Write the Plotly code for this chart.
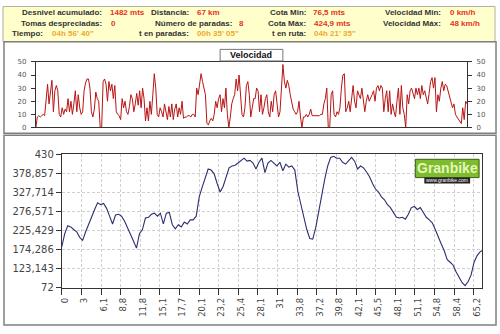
import plotly.graph_objects as go

# ---------------- data ----------------
elevation = [181, 217, 238, 235, 228, 222, 207, 199, 222, 243, 264, 282, 300, 295, 298, 285, 264, 243,
             267, 269, 264, 251, 233, 217, 197, 178, 217, 228, 259, 261, 269, 272, 264, 272, 243, 272,
             274, 241, 230, 241, 235, 248, 243, 254, 254, 264, 316, 342, 368, 391, 388, 378, 352, 329,
             344, 370, 394, 399, 401, 407, 414, 420, 412, 414, 407, 391, 409, 420, 381, 407, 414, 407,
             399, 409, 386, 404, 396, 399, 388, 331, 298, 264, 228, 204, 202, 233, 280, 321, 363, 399,
             422, 425, 420, 420, 409, 404, 414, 422, 412, 391, 399, 394, 383, 370, 352, 337, 329, 316,
             308, 295, 287, 274, 261, 259, 261, 256, 269, 287, 290, 282, 287, 274, 261, 254, 246, 228,
             207, 189, 171, 147, 140, 132, 114, 101, 85, 77, 88, 106, 140, 158, 168, 173]

speed = [0, 8, 9, 8, 9, 10, 9,
         25, 33, 18, 30, 36, 12, 28, 32, 28, 10,
         8, 15, 10, 14, 12, 22, 12, 20, 10, 18,
         28, 12, 25, 15, 10, 12, 28, 34, 37, 37,
         30, 12, 8, 14, 27, 22, 20, 0, 0, 35,
         37, 33, 20, 35, 28, 33, 22, 32, 12, 10,
         9, 6, 22, 15, 20, 12, 10, 16, 25, 22,
         12, 18, 26, 17, 28, 15, 30, 22, 5, 15,
         5, 20, 10, 25, 41, 30, 10, 8, 15, 12,
         8, 18, 10, 6, 16, 8, 18, 6, 14, 18,
         8, 15, 10, 20, 7, 8, 8, 9, 9, 8,
         10, 10, 8, 30, 25, 35, 41, 35, 30, 25,
         3, 2, 5, 7, 5, 10, 20, 15, 22, 25,
         12, 22, 15, 30, 10, 0, 8, 18, 22, 25,
         37, 28, 40, 28, 10, 8, 15, 32, 35, 25,
         8, 15, 22,
         22, 30, 28, 12, 25, 10, 15, 22, 25, 12, 8, 20,
         12, 25, 28, 15, 8, 12, 30, 48, 35, 30, 36, 32,
         25, 20, 14, 12, 10, 12, 20, 8, 0, 8, 8,
         10, 8, 10, 14, 9, 9, 9, 9, 9, 9, 10,
         10, 18, 22, 30, 0, 0, 25, 28, 10, 8,
         12, 10, 15, 30, 40, 41, 12, 15, 20, 12,
         25, 32, 20, 15, 28, 25, 22, 30, 18, 12, 20,
         25, 20, 22, 25, 28, 20, 30, 32, 28, 32,
         30, 12, 22, 28, 12, 28, 10, 18, 12, 8, 20,
         30, 10, 32, 15, 10, 0, 25, 18, 28, 30, 25,
         22, 30, 25, 30, 22, 32, 25, 28, 22, 18, 26,
         35, 38, 30, 38, 12, 25, 20, 30, 35, 28, 33,
         32, 28, 22, 20, 15, 18, 10, 8, 6, 5,
         3, 15, 6, 20, 18]

dist_labels = ["0", "3", "6,1", "8,8", "11,8", "15,1", "17,7", "20,1", "23,2", "25,4", "28,1",
               "31", "33,8", "37,2", "39,8", "42,1", "45,5", "48,1", "51,1", "54,8", "58,4", "65,2"]
elev_ticks = [72, 123.143, 174.286, 225.429, 276.571, 327.714, 378.857, 430]
elev_tick_text = ["72", "123,143", "174,286", "225,429", "276,571", "327,714", "378,857", "430"]
speed_ticks = [0, 10, 20, 30, 40, 50]

header = [  # (label, value, value colour kind, row, label right edge px, value left px)
    ("Desnivel acumulado:", "1482 mts", "r", 0, 102, 106),
    ("Distancia:", "67 km", "r", 0, 190, 194),
    ("Cota Min:", "76,5 mts", "r", 0, 307, 310),
    ("Velocidad Min:", "0 km/h", "r", 0, 443, 448),
    ("Tomas despreciadas:", "0", "r", 1, 102, 107),
    ("Número de paradas:", "8", "r", 1, 233, 236),
    ("Cota Máx:", "424,9 mts", "r", 1, 307, 311),
    ("Velocidad Máx:", "48 km/h", "r", 1, 443, 448),
    ("Tiempo:", "04h 56' 40''", "o", 2, 43, 48),
    ("t en paradas:", "00h 35' 05''", "o", 2, 190, 194),
    ("t en ruta:", "04h 21' 35''", "o", 2, 307, 311),
]

W, H = 500, 334
def px(x): return x / W
def py(y): return 1 - y / H

FONT = "Liberation Sans, Arial, sans-serif"
fig = go.Figure()

# elevation
ex = list(range(len(elevation)))
fig.add_trace(go.Scatter(x=ex, y=elevation, mode="lines", line=dict(color="#2a2f6e", width=1.1),
                         xaxis="x2", yaxis="y2", hoverinfo="skip", showlegend=False))
# speed
sx = list(range(len(speed)))
fig.add_trace(go.Scatter(x=sx, y=speed, mode="lines", line=dict(color="#b81414", width=1),
                         xaxis="x", yaxis="y", hoverinfo="skip", showlegend=False))
fig.add_trace(go.Scatter(x=sx, y=speed, mode="lines", line=dict(color="rgba(0,0,0,0)", width=0),
                         xaxis="x", yaxis="y3", hoverinfo="skip", showlegend=False))

# geometry
ex_range = (482 - 60) / 3
tick_step = 19.7 / 3
tickvals_x = [k * tick_step for k in range(len(dist_labels))]

axis_line = "#333333"
tickfont_s = dict(family="DejaVu Sans, Verdana, sans-serif", size=7, color="#555555")
fig.update_layout(
    width=W, height=H, margin=dict(l=0, r=0, t=0, b=0, pad=0),
    paper_bgcolor="white", plot_bgcolor="white", showlegend=False,
    font=dict(family=FONT),
    xaxis=dict(domain=[px(34), px(467)], range=[0, len(speed) - 1], showticklabels=False,
               ticks="", showgrid=False, zeroline=False, showline=True, mirror=True,
               linecolor=axis_line, linewidth=1, anchor="y"),
    yaxis=dict(domain=[py(126), py(58)], range=[0, 50], tickvals=speed_ticks, ticks="outside",
               ticklen=4, tickcolor=axis_line, showgrid=False, zeroline=False, showline=True,
               linecolor=axis_line, tickfont=tickfont_s, ticklabelstandoff=3, anchor="x"),
    yaxis3=dict(domain=[py(126), py(58)], range=[0, 50], tickvals=speed_ticks, ticks="outside",
                ticklen=4, tickcolor=axis_line, showgrid=False, zeroline=False, showline=True,
                linecolor=axis_line, tickfont=tickfont_s, side="right", overlaying="y",
                anchor="x", ticklabelstandoff=3),
    xaxis2=dict(domain=[px(60), px(482)], range=[0, ex_range], tickvals=tickvals_x,
                ticktext=dist_labels, tickangle=-90, ticks="outside", ticklen=6,
                tickcolor=axis_line, ticklabelshift=3,
                tickfont=dict(family="DejaVu Sans, Verdana, sans-serif", size=8.5, color="#444444"),
                showgrid=True, gridcolor="#d0d0d0", griddash="3px,2px", gridwidth=1,
                zeroline=False, showline=True, mirror=True, linecolor=axis_line, anchor="y2"),
    yaxis2=dict(domain=[py(292), py(154)], range=[72, 430], tickvals=elev_ticks,
                ticktext=elev_tick_text, ticks="outside", ticklen=5, tickcolor=axis_line,
                tickfont=dict(family="DejaVu Sans, Verdana, sans-serif", size=10, color="#444444"),
                showgrid=True, gridcolor="#d0d0d0", griddash="3px,2px", gridwidth=1,
                zeroline=False, showline=True, mirror=True, linecolor=axis_line, anchor="x2"),
)

shapes = [
    # header band
    dict(type="rect", xref="paper", yref="paper", x0=px(1), x1=px(495), y0=py(37), y1=py(0.5),
         fillcolor="#ffffcc", line=dict(color="#b0b0a0", width=1), layer="below"),
    # speed panel
    dict(type="rect", xref="paper", yref="paper", x0=px(2), x1=px(496), y0=py(132), y1=py(37),
         fillcolor="rgba(0,0,0,0)", line=dict(color="#808080", width=1.5), layer="below"),
    # elevation panel
    dict(type="rect", xref="paper", yref="paper", x0=px(2), x1=px(496), y0=py(331), y1=py(134),
         fillcolor="rgba(0,0,0,0)", line=dict(color="#808080", width=1.5), layer="below"),
    # speed title box
    dict(type="rect", xref="paper", yref="paper", x0=px(219), x1=px(282), y0=py(57), y1=py(45),
         fillcolor="white", line=dict(color="#777777", width=1)),
    # logo
    dict(type="rect", xref="paper", yref="paper", x0=px(415), x1=px(479), y0=py(178), y1=py(159),
         fillcolor="#7dbb2f", line=dict(color="#3d5f12", width=1)),
    dict(type="rect", xref="paper", yref="paper", x0=px(424), x1=px(470), y0=py(184), y1=py(178),
         fillcolor="#222222", line=dict(width=0)),
]
fig.update_layout(shapes=shapes)

ann = []
rows_y = [7, 18, 29]
for label, value, kind, row, lx, vx in header:
    ann.append(dict(x=px(lx), y=py(rows_y[row]), xref="paper", yref="paper", text="<b>" + label + "</b>",
                    showarrow=False, xanchor="right", yanchor="middle",
                    font=dict(family=FONT, size=8, color="#333333")))
    col = "#e8321e" if kind == "r" else "#f2a531"
    ann.append(dict(x=px(vx), y=py(rows_y[row]), xref="paper", yref="paper", text="<b>" + value + "</b>",
                    showarrow=False, xanchor="left", yanchor="middle",
                    font=dict(family=FONT, size=8, color=col)))
ann.append(dict(x=px(250.5), y=py(51), xref="paper", yref="paper", text="<b>Velocidad</b>",
                showarrow=False, xanchor="center", yanchor="middle",
                font=dict(family=FONT, size=9, color="#111111")))
ann.append(dict(x=px(447), y=py(168.5), xref="paper", yref="paper", text="<b>Granbike</b>",
                showarrow=False, xanchor="center", yanchor="middle",
                font=dict(family=FONT, size=14, color="#e4f7b8")))
ann.append(dict(x=px(447), y=py(181), xref="paper", yref="paper", text="www.granbike.com",
                showarrow=False, xanchor="center", yanchor="middle",
                font=dict(family=FONT, size=5, color="white")))
fig.update_layout(annotations=ann)

fig.write_html("out.html")
